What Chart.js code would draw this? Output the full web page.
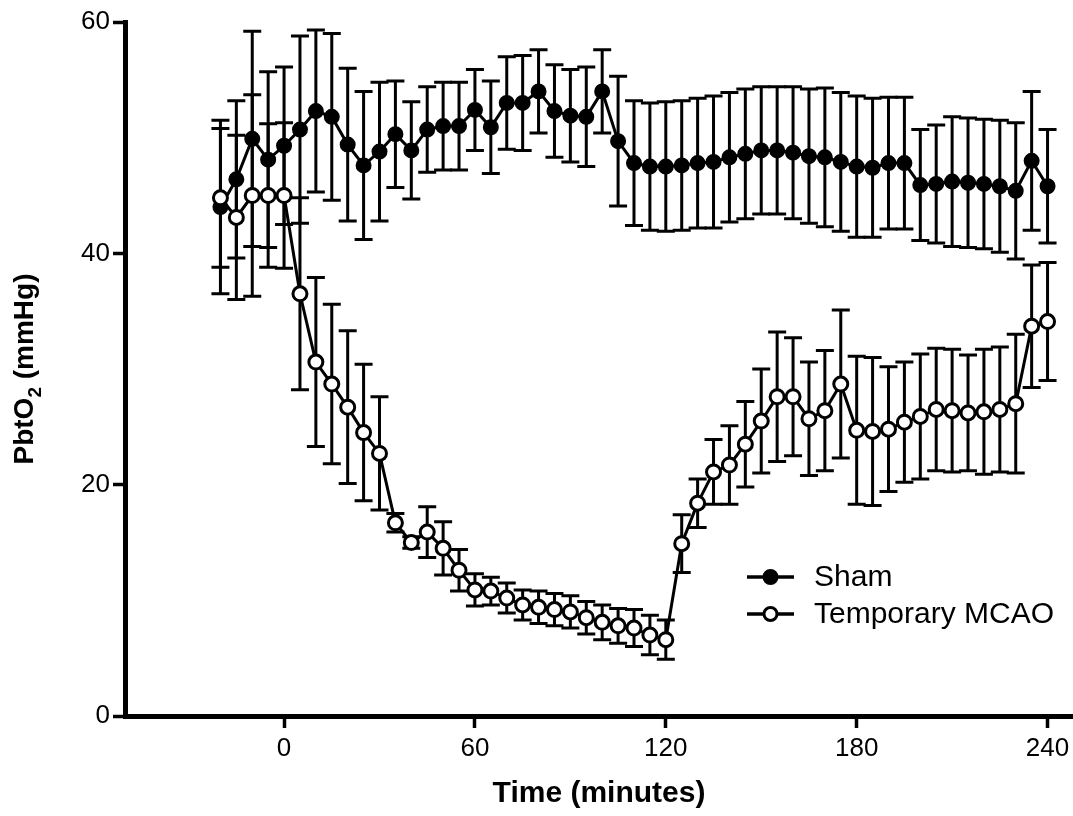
<!DOCTYPE html>
<html>
<head>
<meta charset="utf-8">
<script src="https://cdn.jsdelivr.net/npm/chart.js@4.4.1/dist/chart.umd.min.js"></script>
<style>
  html, body { margin: 0; padding: 0; background: #fff; }
  #wrap { width: 1073px; height: 816px; }
</style>
</head>
<body>
<div id="wrap"><canvas id="chart" width="1073" height="816"></canvas></div>
<script>
// time points (minutes)
const times = [-20, -15, -10, -5, 0, 5, 10, 15, 20, 25, 30, 35, 40, 45, 50, 55, 60, 65, 70, 75, 80, 85, 90, 95, 100,
  105, 110, 115, 120, 125, 130, 135, 140, 145, 150, 155, 160, 165, 170, 175, 180, 185, 190, 195, 200, 205, 210, 215,
  220, 225, 230, 235, 240]

const shamMean = [44.0, 46.4, 49.9, 48.1, 49.3, 50.7, 52.3, 51.8, 49.4, 47.6, 48.8, 50.3, 48.9, 50.7, 51.0, 51.0, 52.4,
  50.9, 53.0, 53.0, 54.0, 52.3, 51.9, 51.8, 54.0, 49.7, 47.8, 47.5, 47.5, 47.6, 47.8, 47.9, 48.3, 48.6, 48.9, 48.9,
  48.7, 48.4, 48.3, 47.9, 47.5, 47.4, 47.8, 47.8, 45.9, 46.0, 46.2, 46.1, 46.0, 45.8, 45.4, 48.0, 45.8]
const shamErr = [7.5, 6.8, 9.3, 7.6, 6.8, 8.1, 7.0, 7.2, 6.6, 6.4, 6.0, 4.6, 4.2, 3.7, 3.8, 3.8, 3.5, 4.0, 4.0, 4.1,
  3.6, 4.0, 4.0, 4.3, 3.6, 5.6, 5.4, 5.5, 5.6, 5.6, 5.6, 5.7, 5.6, 5.6, 5.5, 5.5, 5.7, 5.8, 6.0, 6.0, 6.1, 6.0, 5.7,
  5.7, 4.8, 5.1, 5.6, 5.6, 5.6, 5.7, 5.9, 6.0, 4.9]

const mcaoMean = [44.8, 43.1, 45.0, 45.0, 45.0, 36.5, 30.6, 28.7, 26.7, 24.5, 22.7, 16.7, 15.0, 15.9, 14.5, 12.6, 10.9,
  10.8, 10.2, 9.6, 9.4, 9.2, 9.0, 8.5, 8.1, 7.8, 7.6, 7.0, 6.6, 14.9, 18.4, 21.1, 21.7, 23.5, 25.5, 27.6, 27.6, 25.7,
  26.4, 28.7, 24.7, 24.6, 24.8, 25.4, 25.9, 26.5, 26.4, 26.2, 26.3, 26.5, 27.0, 33.7, 34.1]
const mcaoErr = [6.0, 7.1, 8.7, 6.2, 6.3, 8.3, 7.3, 6.9, 6.6, 5.9, 4.9, 0.8, 0.5, 2.2, 2.3, 1.8, 1.4, 1.2, 1.3, 1.3,
  1.4, 1.4, 1.4, 1.4, 1.5, 1.5, 1.6, 1.7, 1.7, 2.5, 2.1, 2.8, 3.4, 3.7, 4.5, 5.6, 5.1, 4.9, 5.2, 6.4, 6.4, 6.4, 5.4,
  5.2, 5.4, 5.3, 5.3, 5.0, 5.4, 5.4, 6.0, 5.3, 5.1]

const xTicks = [0, 60, 120, 180, 240]
const yTicks = [0, 20, 40, 60]
const seriesNames = ["Sham", "Temporary MCAO"]

const FONT = "'Liberation Sans', Arial, Helvetica, sans-serif"

function toPoints(means) {
  return times.map((t, i) => ({ x: t, y: means[i] }))
}

// vertical error bars with caps, drawn under the points
const errorBars = {
  id: "errorBars",
  beforeDatasetsDraw(chart) {
    const ctx = chart.ctx
    const ys = chart.scales.y
    const xs = chart.scales.x
    ctx.save()
    ctx.strokeStyle = "#000"
    ctx.lineWidth = 3
    ctx.lineCap = "butt"
    chart.data.datasets.forEach((ds) => {
      ds.data.forEach((p, i) => {
        const e = ds.errors[i]
        const x = xs.getPixelForValue(p.x)
        const top = ys.getPixelForValue(p.y + e)
        const bot = ys.getPixelForValue(p.y - e)
        ctx.beginPath()
        ctx.moveTo(x, top)
        ctx.lineTo(x, bot)
        ctx.moveTo(x - 9, top)
        ctx.lineTo(x + 9, top)
        ctx.moveTo(x - 9, bot)
        ctx.lineTo(x + 9, bot)
        ctx.stroke()
      })
    })
    ctx.restore()
  },
}

// legend inside plot, lower right + y title with a real subscript
const extras = {
  id: "extras",
  afterDraw(chart) {
    const ctx = chart.ctx
    const rows = [
      { y: 577, fill: "#000" },
      { y: 614, fill: "#fff" },
    ]
    ctx.save()
    rows.forEach((r, i) => {
      ctx.strokeStyle = "#000"
      ctx.lineWidth = 3.5
      ctx.beginPath()
      ctx.moveTo(747, r.y)
      ctx.lineTo(794, r.y)
      ctx.stroke()
      ctx.lineWidth = 3
      ctx.beginPath()
      ctx.arc(770.5, r.y, 6.5, 0, Math.PI * 2)
      ctx.fillStyle = r.fill
      ctx.fill()
      ctx.stroke()
      ctx.fillStyle = "#000"
      ctx.font = "30px " + FONT
      ctx.textBaseline = "middle"
      ctx.fillText(seriesNames[i], 814, r.y + 1)
    })

    // y axis title: PbtO2 (mmHg)
    const big = "bold 28px " + FONT
    const small = "bold 19px " + FONT
    const parts = [
      { t: "PbtO", f: big, dy: 0 },
      { t: "2", f: small, dy: 8 },
      { t: " (mmHg)", f: big, dy: 0 },
    ]
    let total = 0
    parts.forEach((p) => {
      ctx.font = p.f
      p.w = ctx.measureText(p.t).width
      total += p.w
    })
    const cy = (chart.chartArea.top + chart.chartArea.bottom) / 2
    ctx.translate(33, cy)
    ctx.rotate(-Math.PI / 2)
    ctx.textBaseline = "alphabetic"
    let x = -total / 2
    parts.forEach((p) => {
      ctx.font = p.f
      ctx.fillText(p.t, x, p.dy)
      x += p.w
    })
    ctx.restore()
  },
}

const axisStyle = {
  grid: {
    display: true,
    drawOnChartArea: false,
    drawTicks: true,
    tickLength: 12,
    tickWidth: 3.5,
    tickColor: "#000",
  },
  border: { display: true, width: 5, color: "#000" },
}

new Chart(document.getElementById("chart"), {
  type: "line",
  data: {
    datasets: [
      {
        label: seriesNames[0],
        data: toPoints(shamMean),
        errors: shamErr,
        borderColor: "#000",
        borderWidth: 3,
        pointRadius: 7,
        pointBorderWidth: 2,
        pointBackgroundColor: "#000",
        pointBorderColor: "#000",
        tension: 0,
        order: 2,
      },
      {
        label: seriesNames[1],
        data: toPoints(mcaoMean),
        errors: mcaoErr,
        borderColor: "#000",
        borderWidth: 3,
        pointRadius: 7,
        pointBorderWidth: 3,
        pointBackgroundColor: "#fff",
        pointBorderColor: "#000",
        tension: 0,
        order: 1,
      },
    ],
  },
  options: {
    responsive: false,
    animation: false,
    layout: { autoPadding: false, padding: { top: 22, right: 0, left: 0, bottom: 0 } },
    plugins: { legend: { display: false }, tooltip: { enabled: false } },
    scales: {
      x: {
        type: "linear",
        min: -50,
        max: 248,
        afterBuildTicks: (scale) => {
          scale.ticks = xTicks.map((v) => ({ value: v }))
        },
        afterFit: (scale) => {
          scale.height = 100
          scale.paddingRight = 0
          scale.paddingLeft = 0
        },
        ticks: { color: "#000", font: { family: FONT, size: 26 }, padding: 5 },
        title: {
          display: true,
          text: "Time (minutes)",
          color: "#000",
          font: { family: FONT, size: 30, weight: "bold" },
          padding: { top: 8 },
        },
        ...axisStyle,
      },
      y: {
        min: 0,
        max: 60,
        afterBuildTicks: (scale) => {
          scale.ticks = yTicks.map((v) => ({ value: v }))
        },
        afterFit: (scale) => {
          scale.width = 125
        },
        ticks: { color: "#000", font: { family: FONT, size: 26 }, padding: 3 },
        title: { display: false },
        ...axisStyle,
      },
    },
  },
  plugins: [errorBars, extras],
})
</script>
</body>
</html>
